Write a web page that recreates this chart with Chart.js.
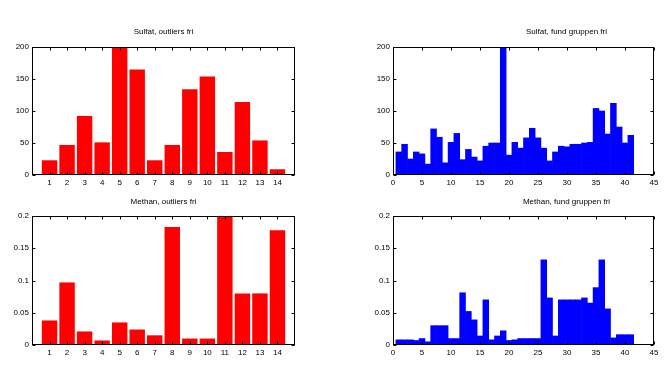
<!DOCTYPE html>
<html><head><meta charset="utf-8">
<script src="https://cdn.jsdelivr.net/npm/chart.js@4.4.1/dist/chart.umd.min.js"></script>
<style>
html,body{margin:0;padding:0;background:#fff;}
#wrap{position:relative;width:668px;height:379px;overflow:hidden;background:#fff;}
canvas{position:absolute;left:0;top:0;}
.t{position:absolute;font:8px "Liberation Sans",Arial,sans-serif;line-height:10px;color:#000;white-space:nowrap;transform:translateX(-50%);}
</style></head><body>
<div id="wrap">
<canvas id="c1" width="668" height="379"></canvas>
<canvas id="c2" width="668" height="379"></canvas>
<canvas id="c3" width="668" height="379"></canvas>
<canvas id="c4" width="668" height="379"></canvas>
<div class="t" style="left:163.5px;top:27px">Sulfat, outliers fri</div>
<div class="t" style="left:566.5px;top:27px">Sulfat, fund gruppen fri</div>
<div class="t" style="left:163.5px;top:197px">Methan, outliers fri</div>
<div class="t" style="left:566.5px;top:197px">Methan, fund gruppen fri</div>
</div>
<script>
// ---- data ----
const outlierCats = [1,2,3,4,5,6,7,8,9,10,11,12,13,14];
const sulfatOutlierVals = [23,47,92,51,200,165,23,47,134,154,36,114,54,9];
const methanOutlierVals = [0.038,0.097,0.021,0.007,0.035,0.024,0.015,0.183,0.01,0.01,0.2,0.08,0.08,0.178];

const fundCats = [1,2,3,4,5,6,7,8,9,10,11,12,13,14,15,16,17,18,19,20,21,22,23,24,25,26,27,28,29,30,31,32,33,34,35,36,37,38,39,40,41];
const sulfatFundVals = [36,48,25,36,33,17,72,59,19,51,65,24,40,28,22,45,50,50,200,31,51,42,58,73,58,42,22,36,45,44,48,48,50,51,104,100,64,112,75,50,62];
const methanFundVals = [0.008,0.008,0.008,0.007,0.01,0.005,0.03,0.03,0.03,0.01,0.01,0.081,0.052,0.039,0.014,0.07,0.008,0.014,0.022,0.007,0.008,0.01,0.01,0.01,0.01,0.132,0.073,0.014,0.07,0.07,0.07,0.07,0.073,0.065,0.089,0.132,0.056,0.011,0.016,0.016,0.016];

const outlierXTicks = [1,2,3,4,5,6,7,8,9,10,11,12,13,14];
const fundXTicks = [0,5,10,15,20,25,30,35,40,45];
const sulfatYTicks = [0,50,100,150,200];
const methanYTicks = [0,0.05,0.1,0.15,0.2];

// ---- drawing ----
const W = 668, H = 379, YW = 30, XH = 15;
const FONT = {family:'"Liberation Sans", Arial, sans-serif', size:8};

const boxPlugin = {
  id:'box',
  afterDraw(chart){
    const {ctx, chartArea:a, scales:{x, y}} = chart;
    ctx.save();
    ctx.strokeStyle = '#000';
    ctx.lineWidth = 1;
    const L = Math.round(a.left)+0.5, R = Math.round(a.right)-0.5;
    const T = Math.round(a.top)+0.5, B = Math.round(a.bottom)-0.5;
    ctx.strokeRect(L, T, R-L, B-T);
    ctx.beginPath();
    const tl = 3;
    x.ticks.forEach(t=>{
      const px = Math.round(x.getPixelForValue(t.value))+0.5;
      ctx.moveTo(px, B); ctx.lineTo(px, B-tl);
      ctx.moveTo(px, T); ctx.lineTo(px, T+tl);
    });
    y.ticks.forEach(t=>{
      const py = Math.round(y.getPixelForValue(t.value))+0.5;
      ctx.moveTo(L, py); ctx.lineTo(L+tl, py);
      ctx.moveTo(R, py); ctx.lineTo(R-tl, py);
    });
    ctx.stroke();
    ctx.restore();
  }
};

function makeChart(id, cats, vals, color, xMin, xMax, xTicks, yMax, yTicks, area, barPct){
  new Chart(document.getElementById(id), {
    type:'bar',
    data:{datasets:[{
      data: cats.map((c,i)=>({x:c, y:vals[i]})),
      backgroundColor: color,
      borderWidth: 0,
      barPercentage: barPct,
      categoryPercentage: 1
    }]},
    options:{
      responsive:false,
      animation:false,
      events:[],
      layout:{padding:{left: area.l - YW, right: W - area.r, top: area.t, bottom: H - area.b - XH}},
      plugins:{legend:{display:false}, tooltip:{enabled:false}, title:{display:false}},
      scales:{
        x:{
          type:'linear', min:xMin, max:xMax, offset:false,
          afterBuildTicks: s => { s.ticks = xTicks.map(v=>({value:v})); },
          afterFit: s => { s.height = XH; },
          grid:{display:false, drawTicks:false, offset:false},
          border:{display:false},
          ticks:{color:'#000', font:FONT, padding:3, maxRotation:0, autoSkip:false, callback: v => String(v)}
        },
        y:{
          type:'linear', min:0, max:yMax,
          afterBuildTicks: s => { s.ticks = yTicks.map(v=>({value:v})); },
          afterFit: s => { s.width = YW; },
          grid:{display:false, drawTicks:false},
          border:{display:false},
          ticks:{color:'#000', font:FONT, padding:3, autoSkip:false, callback: v => String(v)}
        }
      }
    },
    plugins:[boxPlugin]
  });
}

makeChart('c1', outlierCats, sulfatOutlierVals, '#ff0000', 0, 15, outlierXTicks, 200, sulfatYTicks, {l:32, r:295, t:47, b:175}, 0.88);
makeChart('c2', fundCats, sulfatFundVals, '#0000ff', 0, 45, fundXTicks, 200, sulfatYTicks, {l:393, r:654, t:47, b:175}, 1.0);
makeChart('c3', outlierCats, methanOutlierVals, '#ff0000', 0, 15, outlierXTicks, 0.2, methanYTicks, {l:32, r:295, t:216, b:345}, 0.88);
makeChart('c4', fundCats, methanFundVals, '#0000ff', 0, 45, fundXTicks, 0.2, methanYTicks, {l:393, r:654, t:216, b:345}, 1.0);
</script>
</body></html>
